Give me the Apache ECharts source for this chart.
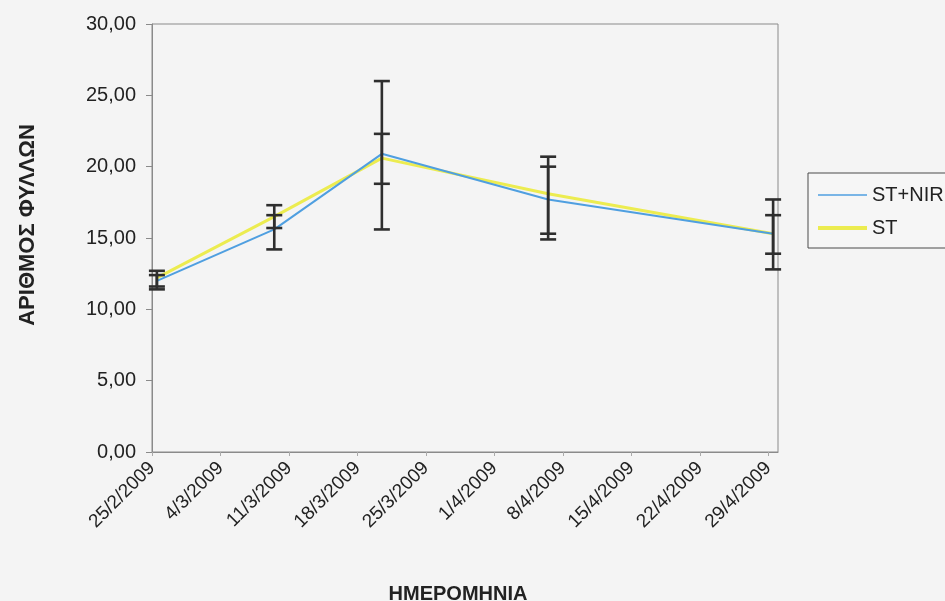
<!DOCTYPE html>
<html>
<head>
<meta charset="utf-8">
<title>ΑΡΙΘΜΟΣ ΦΥΛΛΩΝ</title>
<script src="https://cdn.jsdelivr.net/npm/echarts@6/dist/echarts.min.js"></script>
<style>
  html, body { margin: 0; padding: 0; background: #f4f4f4; }
  #chart { width: 945px; height: 601px; }
</style>
</head>
<body>
<div id="chart"></div>
<script>
// Sampling dates and mean leaf counts per treatment
const sampleDates = ['2009-02-25', '2009-03-09', '2009-03-20', '2009-04-06', '2009-04-29'];
const stNir = [12.0, 15.6, 20.9, 17.7, 15.3];
const st = [12.2, 16.5, 20.6, 18.1, 15.3];

// Error bar extents (low / high) for each treatment
const stNirLow = [11.6, 14.2, 15.6, 14.9, 12.8];
const stNirHigh = [12.4, 17.3, 26.0, 20.7, 17.7];
const stLow = [11.4, 15.7, 18.8, 15.3, 13.9];
const stHigh = [12.7, 16.6, 22.3, 20.0, 16.6];

// Weekly date ticks along the horizontal axis
const xTickLabels = ['25/2/2009', '4/3/2009', '11/3/2009', '18/3/2009', '25/3/2009',
  '1/4/2009', '8/4/2009', '15/4/2009', '22/4/2009', '29/4/2009'];
const yTickLabels = ['0,00', '5,00', '10,00', '15,00', '20,00', '25,00', '30,00'];

const DAY = 86400000;
const startDay = Date.UTC(2009, 1, 25);
// Date-axis position in days from the first tick; each point sits mid-day
function dayPos(iso) {
  const p = iso.split('-').map(Number);
  return (Date.UTC(p[0], p[1] - 1, p[2]) - startDay) / DAY + 0.5;
}
const xs = sampleDates.map(dayPos);

const FONT = '"Liberation Sans", Arial, sans-serif';
const BLUE = '#4f9fe0';
const YELLOW = '#ecec50';

function errorBars(low, high) {
  return {
    type: 'custom',
    silent: true,
    z: 5,
    data: xs.map((x, i) => [x, low[i], high[i]]),
    renderItem: function (params, api) {
      const x = api.value(0);
      const lo = api.coord([x, api.value(1)]);
      const hi = api.coord([x, api.value(2)]);
      const cap = 8;
      const style = { stroke: '#2e2e2e', lineWidth: 2.6 };
      return {
        type: 'group',
        children: [
          { type: 'line', shape: { x1: lo[0], y1: lo[1], x2: hi[0], y2: hi[1] }, style: style },
          { type: 'line', shape: { x1: hi[0] - cap, y1: hi[1], x2: hi[0] + cap, y2: hi[1] }, style: style },
          { type: 'line', shape: { x1: lo[0] - cap, y1: lo[1], x2: lo[0] + cap, y2: lo[1] }, style: style }
        ]
      };
    }
  };
}

const chart = echarts.init(document.getElementById('chart'), null, { renderer: 'canvas' });
chart.setOption({
  backgroundColor: '#f4f4f4',
  animation: false,
  textStyle: { fontFamily: FONT },
  grid: {
    left: 152, top: 24, right: 167, bottom: 149,
    outerBoundsMode: 'none',
    containLabel: false,
    show: true, borderColor: '#8a8a8a', borderWidth: 1, backgroundColor: 'transparent'
  },
  legend: {
    orient: 'vertical',
    left: 808, top: 173,
    padding: [12, 10, 10, 8],
    itemWidth: 49, itemHeight: 20, itemGap: 13,
    borderColor: '#4a4a4a', borderWidth: 1,
    backgroundColor: '#f6f6f6',
    itemStyle: { opacity: 0 },
    textStyle: { fontFamily: FONT, fontSize: 20, color: '#222' },
    data: [
      { name: 'ST+NIR', lineStyle: { width: 1.5 } },
      { name: 'ST', lineStyle: { width: 4 } }
    ]
  },
  xAxis: {
    type: 'value',
    min: 0, max: 64, interval: 7,
    name: 'ΗΜΕΡΟΜΗΝΙΑ',
    nameLocation: 'middle',
    nameGap: 132,
    nameTextStyle: { fontFamily: FONT, fontSize: 20, fontWeight: 'bold', color: '#222', padding: [0, 14, 0, 0] },
    axisLine: { lineStyle: { color: '#8a8a8a', width: 1 } },
    axisTick: { show: true, length: 4, lineStyle: { color: '#aaa' } },
    splitLine: { show: false },
    axisLabel: {
      rotate: 45, margin: 13, fontSize: 19, color: '#222', fontFamily: FONT,
      showMaxLabel: false,
      formatter: v => xTickLabels[Math.round(v / 7)] || ''
    }
  },
  yAxis: {
    type: 'value',
    min: 0, max: 30, interval: 5,
    name: 'ΑΡΙΘΜΟΣ ΦΥΛΛΩΝ',
    nameLocation: 'middle',
    nameRotate: 90,
    nameGap: 113,
    nameTextStyle: { fontFamily: FONT, fontSize: 22, fontWeight: 'bold', color: '#222', padding: [0, 0, 0, 26] },
    axisLine: { show: true, lineStyle: { color: '#8a8a8a', width: 1 } },
    axisTick: { show: true, inside: false, length: 6, lineStyle: { color: '#8a8a8a' } },
    splitLine: { show: false },
    axisLabel: {
      margin: 16, fontSize: 20, color: '#222', fontFamily: FONT,
      formatter: v => yTickLabels[Math.round(v / 5)]
    }
  },
  series: [
    errorBars(stNirLow, stNirHigh),
    errorBars(stLow, stHigh),
    {
      name: 'ST+NIR',
      type: 'line',
      symbol: 'none',
      z: 3,
      data: xs.map((x, i) => [x, stNir[i]]),
      lineStyle: { color: BLUE, width: 2 },
      itemStyle: { color: BLUE }
    },
    {
      name: 'ST',
      type: 'line',
      symbol: 'none',
      z: 2,
      data: xs.map((x, i) => [x, st[i]]),
      lineStyle: { color: YELLOW, width: 3 },
      itemStyle: { color: YELLOW }
    }
  ]
});
</script>
</body>
</html>
